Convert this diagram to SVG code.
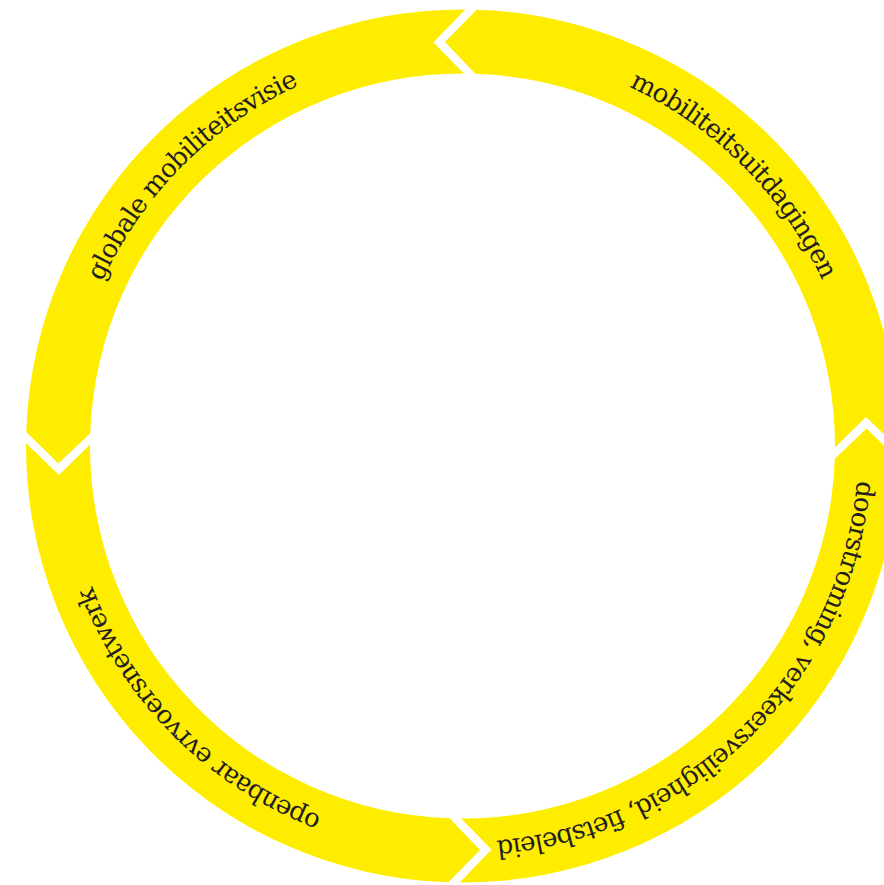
<svg xmlns="http://www.w3.org/2000/svg" xmlns:xlink="http://www.w3.org/1999/xlink" width="884" height="885" viewBox="0 0 884 885">
  <style>
    .seg { fill: #FFED00; stroke: none; }
    .lbl { font-family: "DejaVu Serif", "Liberation Serif", serif; font-size: 26px; letter-spacing: -0.9px; fill: #231F20; }
  </style>
  <defs>
    <path id="p-mob" d="M235.36,121.62 A396,396 0 0 1 786.88,673.14"/>
    <path id="p-door" d="M786.88,218.86 A396,396 0 0 1 235.36,770.38"/>
    <path id="p-open" d="M689.64,770.38 A396,396 0 0 1 138.12,218.86"/>
    <path id="p-glob" d="M138.12,673.14 A396,396 0 0 1 689.64,121.62"/>
  </defs>
  <rect x="0" y="0" width="884" height="885" fill="#FFFFFF"/>
  <g id="node-mobiliteitsuitdagingen">
    <path class="seg" d="M476.59,9.73 A436.5,436.5 0 0 1 898.99,448.67 L865.96,417.01 L835.00,447.43 A372.5,372.5 0 0 0 475.37,73.72 L444.93,41.88 Z"/>
    <text class="lbl" text-anchor="middle"><textPath xlink:href="#p-mob" href="#p-mob" startOffset="50%">mobiliteitsuitdagingen</textPath></text>
  </g>
  <g id="node-doorstroming">
    <path class="seg" d="M898.77,460.09 A436.5,436.5 0 0 1 459.83,882.49 L491.49,849.46 L461.07,818.50 A372.5,372.5 0 0 0 834.78,458.87 L866.62,428.43 Z"/>
    <text class="lbl" text-anchor="middle"><textPath xlink:href="#p-door" href="#p-door" startOffset="50%">doorstroming, verkeersveiligheid, fietsbeleid</textPath></text>
  </g>
  <g id="node-openbaar">
    <path class="seg" d="M448.41,882.27 A436.5,436.5 0 0 1 26.01,443.33 L59.04,474.99 L90.00,444.57 A372.5,372.5 0 0 0 449.63,818.28 L480.07,850.12 Z"/>
    <text class="lbl" text-anchor="middle"><textPath xlink:href="#p-open" href="#p-open" startOffset="50%">openbaar evrvoersnetwerk</textPath></text>
  </g>
  <g id="node-globale">
    <path class="seg" d="M26.23,431.91 A436.5,436.5 0 0 1 465.17,9.51 L433.51,42.54 L463.93,73.50 A372.5,372.5 0 0 0 90.22,433.13 L58.38,463.57 Z"/>
    <text class="lbl" text-anchor="middle"><textPath xlink:href="#p-glob" href="#p-glob" startOffset="50%">globale mobiliteitsvisie</textPath></text>
  </g>
  <g id="connectors"></g>
</svg>
